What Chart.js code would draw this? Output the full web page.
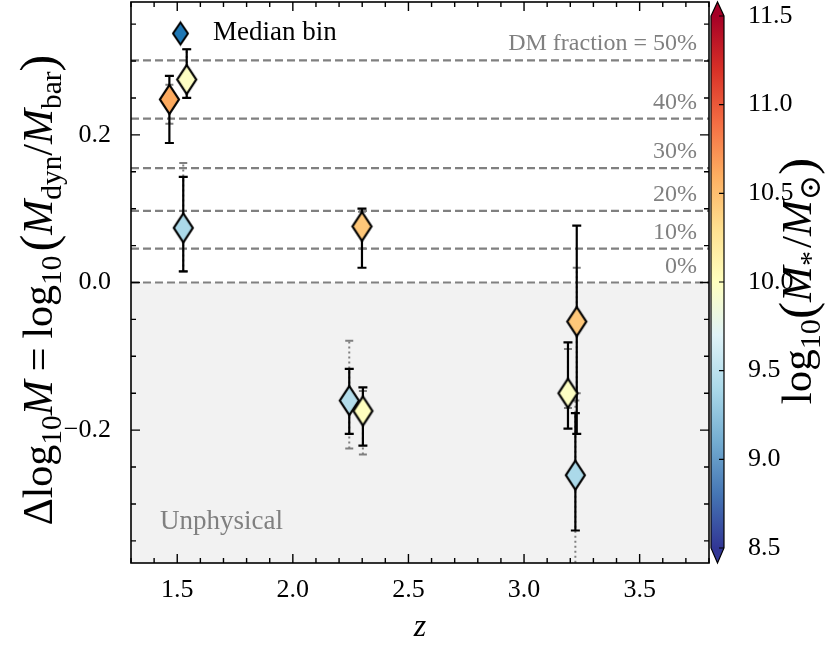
<!DOCTYPE html>
<html>
<head>
<meta charset="utf-8">
<script src="https://cdn.jsdelivr.net/npm/chart.js@4/dist/chart.umd.min.js"></script>
<style>
  html, body { margin: 0; padding: 0; background: #fff; }
  canvas { display: block; }
</style>
</head>
<body>
<canvas id="chart" width="831" height="647"></canvas>
<script>
// --- data ---
const redshift    = [1.466, 1.541, 1.526, 2.299, 2.244, 2.303, 3.190, 3.228, 3.222];
const deltaLogM   = [0.248, 0.275, 0.074, 0.076, -0.160, -0.174, -0.150, -0.053, -0.261];
const errLow      = [0.189, 0.250, 0.015, 0.020, -0.205, -0.221, -0.198, -0.205, -0.336];
const errHigh     = [0.280, 0.316, 0.143, 0.100, -0.117, -0.142, -0.081, 0.077, -0.177];
const altLow      = [0.215, 0.250, 0.015, 0.046, -0.225, -0.233, -0.170, -0.150, -0.400];
const altHigh     = [0.268, 0.316, 0.162, 0.096, -0.079, -0.147, -0.090, 0.020, -0.160];
const stellarMass = [10.62, 9.98, 9.40, 10.45, 9.45, 10.00, 9.98, 10.45, 9.40];

const dmLabels = ['0%', '10%', '20%', '30%', '40%', 'DM fraction = 50%'];
const dmOffset = [0, 0.046, 0.097, 0.155, 0.222, 0.301];

const xTicks  = [1.5, 2.0, 2.5, 3.0, 3.5];
const yTicks  = [-0.2, 0.0, 0.2];
const cbTicks = [8.5, 9.0, 9.5, 10.0, 10.5, 11.0, 11.5];

const X_MIN = 1.3, X_MAX = 3.8, Y_MIN = -0.38, Y_MAX = 0.38;
const CB_MIN = 8.5, CB_MAX = 11.5;

const SERIF = '"Liberation Serif", "DejaVu Serif", serif';
const GRAY = '#808080';

// RdYlBu reversed
const cmapStops = ['#313695', '#4575b4', '#74add1', '#abd9e9', '#e0f3f8', '#ffffbf',
                   '#fee090', '#fdae61', '#f46d43', '#d73027', '#a50026'];

function hexToRgb(h) {
  return [parseInt(h.slice(1, 3), 16), parseInt(h.slice(3, 5), 16), parseInt(h.slice(5, 7), 16)];
}

function cmap(v) {
  let t = (v - CB_MIN) / (CB_MAX - CB_MIN);
  t = Math.max(0, Math.min(1, t)) * (cmapStops.length - 1);
  const i = Math.min(Math.floor(t), cmapStops.length - 2);
  const f = t - i;
  const a = hexToRgb(cmapStops[i]), b = hexToRgb(cmapStops[i + 1]);
  const c = a.map((x, k) => Math.round(x + (b[k] - x) * f));
  return `rgb(${c[0]},${c[1]},${c[2]})`;
}

function diamond(fill, w, h, lw) {
  const c = document.createElement('canvas');
  c.width = w + lw * 2 + 2;
  c.height = h + lw * 2 + 2;
  const g = c.getContext('2d');
  const cx = c.width / 2, cy = c.height / 2;
  g.beginPath();
  g.moveTo(cx, cy - h / 2);
  g.lineTo(cx + w / 2, cy);
  g.lineTo(cx, cy + h / 2);
  g.lineTo(cx - w / 2, cy);
  g.closePath();
  g.fillStyle = fill;
  g.fill();
  g.lineWidth = lw;
  g.lineJoin = 'miter';
  g.strokeStyle = '#000';
  g.stroke();
  return c;
}

const markers = stellarMass.map(m => diamond(cmap(m), 19, 29, 2.2));

// text with subscripts / italics, centered on (0,0) horizontally
function drawRich(ctx, segs, size) {
  const fontOf = s => {
    const sz = s.sub ? size * 0.7 : s.big ? size * 1.2 : size;
    return (s.it ? 'italic ' : '') + sz + 'px ' + SERIF;
  };
  let total = 0;
  segs.forEach(s => { ctx.font = fontOf(s); s.w = ctx.measureText(s.t).width + (s.gap || 0); total += s.w; });
  let x = -total / 2;
  ctx.textAlign = 'left';
  ctx.textBaseline = 'alphabetic';
  segs.forEach(s => {
    ctx.font = fontOf(s);
    const dy = s.sub ? size * 0.22 : s.big ? size * 0.06 : 0;
    ctx.fillText(s.t, x, dy);
    x += s.w;
  });
}

function drawErrorBar(ctx, px, y0, y1, cap) {
  ctx.beginPath();
  ctx.moveTo(px, y0); ctx.lineTo(px, y1);
  ctx.stroke();
  ctx.setLineDash([]);
  ctx.beginPath();
  ctx.moveTo(px - cap, y0); ctx.lineTo(px + cap, y0);
  ctx.moveTo(px - cap, y1); ctx.lineTo(px + cap, y1);
  ctx.stroke();
}

const errorBars = {
  id: 'errorBars',
  beforeDatasetDraw(chart, args) {
    if (args.index !== chart.data.datasets.length - 1) return;
    const {ctx, chartArea: a, scales: {x, y}} = chart;
    ctx.save();
    ctx.beginPath();
    ctx.rect(a.left, a.top, a.right - a.left, a.bottom - a.top);
    ctx.clip();
    ctx.lineWidth = 2;
    ctx.strokeStyle = GRAY;
    redshift.forEach((z, i) => {
      ctx.setLineDash([2, 3]);
      drawErrorBar(ctx, x.getPixelForValue(z), y.getPixelForValue(altLow[i]), y.getPixelForValue(altHigh[i]), 4);
    });
    ctx.strokeStyle = '#000';
    ctx.lineWidth = 2.2;
    redshift.forEach((z, i) => {
      ctx.setLineDash([]);
      drawErrorBar(ctx, x.getPixelForValue(z), y.getPixelForValue(errLow[i]), y.getPixelForValue(errHigh[i]), 4.5);
    });
    ctx.restore();
  }
};

const decorations = {
  id: 'decorations',
  afterDatasetsDraw(chart) {
    const {ctx, chartArea: a, scales: {x, y}} = chart;
    ctx.save();
    // DM fraction labels
    ctx.fillStyle = GRAY;
    ctx.font = '24px ' + SERIF;
    ctx.textAlign = 'right';
    ctx.textBaseline = 'alphabetic';
    dmOffset.forEach((v, i) => {
      ctx.fillText(dmLabels[i], a.right - 12, y.getPixelForValue(v) - 10);
    });
    ctx.textAlign = 'left';
    ctx.textBaseline = 'middle';
    ctx.font = '27px ' + SERIF;
    ctx.fillText('Unphysical', a.left + 29, 522);

    // legend
    ctx.drawImage(diamond('#1f77b4', 15, 22, 2), 180 - 10, 33 - 13.5);
    ctx.fillStyle = '#000';
    ctx.fillText('Median bin', 213, 33);

    // frame
    ctx.strokeStyle = '#000';
    ctx.lineWidth = 1.6;
    ctx.strokeRect(a.left, a.top, a.right - a.left, a.bottom - a.top);

    // inward ticks on all sides
    ctx.lineWidth = 1.4;
    ctx.beginPath();
    for (let v = X_MIN; v <= X_MAX + 1e-9; v += 0.1) {
      const px = x.getPixelForValue(v);
      const major = xTicks.some(t => Math.abs(t - v) < 1e-6);
      const len = major ? 9 : 5;
      ctx.moveTo(px, a.bottom); ctx.lineTo(px, a.bottom - len);
      ctx.moveTo(px, a.top); ctx.lineTo(px, a.top + len);
    }
    for (let v = -0.35; v <= 0.351; v += 0.05) {
      const py = y.getPixelForValue(v);
      const major = yTicks.some(t => Math.abs(t - v) < 1e-6);
      const len = major ? 9 : 5;
      ctx.moveTo(a.left, py); ctx.lineTo(a.left + len, py);
      ctx.moveTo(a.right, py); ctx.lineTo(a.right - len, py);
    }
    ctx.stroke();
    ctx.restore();
  },
  afterDraw(chart) {
    const {ctx, chartArea: a, scales: {cb}} = chart;
    ctx.save();
    // colour bar
    const x0 = a.right + 2, x1 = a.right + 15;
    const yTop = cb.getPixelForValue(CB_MAX), yBot = cb.getPixelForValue(CB_MIN);
    const grad = ctx.createLinearGradient(0, yBot, 0, yTop);
    cmapStops.forEach((c, i) => grad.addColorStop(i / (cmapStops.length - 1), c));
    ctx.fillStyle = grad;
    ctx.fillRect(x0, yTop, x1 - x0, yBot - yTop);
    ctx.fillStyle = cmapStops[cmapStops.length - 1];
    ctx.beginPath();
    ctx.moveTo(x0, yTop); ctx.lineTo((x0 + x1) / 2, a.top); ctx.lineTo(x1, yTop); ctx.closePath();
    ctx.fill();
    ctx.fillStyle = cmapStops[0];
    ctx.beginPath();
    ctx.moveTo(x0, yBot); ctx.lineTo((x0 + x1) / 2, a.bottom); ctx.lineTo(x1, yBot); ctx.closePath();
    ctx.fill();
    ctx.strokeStyle = '#000';
    ctx.lineWidth = 1.2;
    ctx.beginPath();
    ctx.moveTo(x0, yTop); ctx.lineTo((x0 + x1) / 2, a.top); ctx.lineTo(x1, yTop);
    ctx.lineTo(x1, yBot); ctx.lineTo((x0 + x1) / 2, a.bottom); ctx.lineTo(x0, yBot);
    ctx.closePath();
    ctx.stroke();
    ctx.beginPath();
    cbTicks.forEach(v => {
      const py = cb.getPixelForValue(v);
      ctx.moveTo(x1, py); ctx.lineTo(x1 - 5, py);
    });
    ctx.stroke();

    // axis titles
    ctx.fillStyle = '#000';
    ctx.font = 'italic 32px ' + SERIF;
    ctx.textAlign = 'center';
    ctx.textBaseline = 'alphabetic';
    ctx.fillText('z', (a.left + a.right) / 2, 636);

    ctx.save();
    ctx.translate(52, 290);
    ctx.rotate(-Math.PI / 2);
    drawRich(ctx, [
      {t: 'Δlog'}, {t: '10', sub: true}, {t: 'M', it: true, gap: 9}, {t: '=', gap: 9}, {t: 'log'},
      {t: '10', sub: true, gap: 4}, {t: '(', big: true}, {t: 'M', it: true}, {t: 'dyn', sub: true}, {t: '/'},
      {t: 'M', it: true}, {t: 'bar', sub: true}, {t: ')', big: true}
    ], 42);
    ctx.restore();

    ctx.save();
    ctx.translate(811, 281);
    ctx.rotate(-Math.PI / 2);
    drawRich(ctx, [
      {t: 'log'}, {t: '10', sub: true}, {t: '(', big: true}, {t: 'M', it: true}, {t: '*', sub: true, gap: 3},
      {t: '/'}, {t: 'M', it: true}, {t: '⊙', sub: true}, {t: ')', big: true}
    ], 43);
    ctx.restore();
    ctx.restore();
  }
};

const fmt = v => (v < 0 ? '\u2212' : '') + Math.abs(v).toFixed(1);
// the colour bar and axes handle their own spacing; drop Chart.js label padding
const noPad = s => { s.paddingTop = 0; s.paddingBottom = 0; s.paddingLeft = 0; s.paddingRight = 0; };

const datasets = [];
// shaded unphysical region below zero
datasets.push({
  type: 'line', showLine: true, order: 10,
  data: [{x: X_MIN, y: 0}, {x: X_MAX, y: 0}],
  borderWidth: 0, borderColor: 'rgba(0,0,0,0)', backgroundColor: '#f2f2f2',
  fill: 'start', pointRadius: 0
});
dmOffset.forEach(v => datasets.push({
  type: 'line', showLine: true, order: 5,
  data: [{x: X_MIN, y: v}, {x: X_MAX, y: v}],
  borderColor: GRAY, borderWidth: 2.2, borderDash: [8, 4],
  fill: false, pointRadius: 0
}));
datasets.push({
  type: 'scatter', order: 0,
  data: redshift.map((z, i) => ({x: z, y: deltaLogM[i]})),
  pointStyle: markers,
  pointRadius: 14
});

new Chart(document.getElementById('chart'), {
  type: 'scatter',
  data: {datasets},
  plugins: [errorBars, decorations],
  options: {
    responsive: false,
    animation: false,
    devicePixelRatio: 1,
    layout: {autoPadding: false, padding: {top: 2, left: 0, right: 0, bottom: 0}},
    plugins: {legend: {display: false}, tooltip: {enabled: false}},
    scales: {
      x: {
        type: 'linear', min: X_MIN, max: X_MAX,
        grid: {display: false}, border: {display: false},
        afterBuildTicks: s => { s.ticks = xTicks.map(v => ({value: v})); },
        afterFit: s => { s.height = 84; noPad(s); },
        ticks: {font: {family: SERIF, size: 26}, color: '#000', padding: 4, maxRotation: 0, callback: fmt}
      },
      y: {
        type: 'linear', min: Y_MIN, max: Y_MAX,
        grid: {display: false}, border: {display: false},
        afterBuildTicks: s => { s.ticks = yTicks.map(v => ({value: v})); },
        afterFit: s => { s.width = 131; noPad(s); },
        ticks: {font: {family: SERIF, size: 26}, color: '#000', padding: 12, callback: fmt}
      },
      cb: {
        type: 'linear', position: 'right',
        min: CB_MIN - 0.0846, max: CB_MAX + 0.0789,
        grid: {display: false}, border: {display: false},
        afterBuildTicks: s => { s.ticks = cbTicks.map(v => ({value: v})); },
        afterFit: s => { s.width = 122; noPad(s); },
        ticks: {font: {family: SERIF, size: 26}, color: '#000', padding: 31, autoSkip: false, callback: v => v.toFixed(1)}
      }
    }
  }
});
</script>
</body>
</html>
